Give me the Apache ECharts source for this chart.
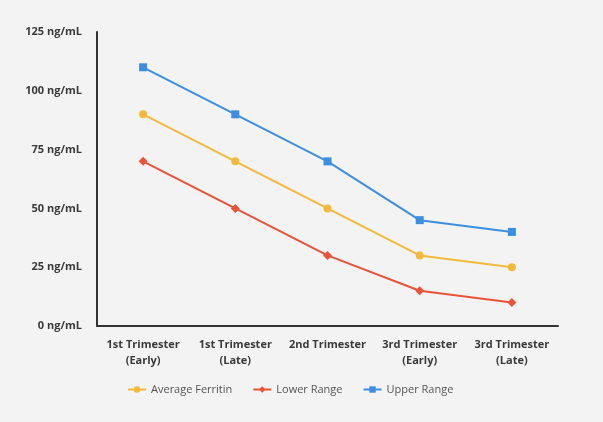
<!DOCTYPE html>
<html>
<head>
<meta charset="utf-8">
<script src="https://cdn.jsdelivr.net/npm/echarts@6/dist/echarts.min.js"></script>
<style>
  html, body { margin: 0; padding: 0; background: #f3f3f3; }
  #chart { width: 603px; height: 422px; }
</style>
</head>
<body>
<div id="chart"></div>
<script>
// trimester stages
var stages = ['1st Trimester\n(Early)', '1st Trimester\n(Late)', '2nd Trimester', '3rd Trimester\n(Early)', '3rd Trimester\n(Late)'];
// ferritin values, ng/mL
var averageFerritin = [90, 70, 50, 30, 25];
var lowerRange = [70, 50, 30, 15, 10];
var upperRange = [110, 90, 70, 45, 40];

var chart = echarts.init(document.getElementById('chart'));

function lineSeries(name, data, symbol, color) {
  return {
    name: name,
    type: 'line',
    data: data,
    symbol: symbol,
    symbolSize: symbol === 'diamond' ? 9 : 8,
    lineStyle: { width: 2, color: color },
    itemStyle: { color: color }
  };
}

var option = {
  backgroundColor: '#f3f3f3',
  animation: false,
  textStyle: { fontFamily: 'Open Sans' },
  grid: { left: 97, right: 45, top: 32, bottom: 96 },
  legend: {
    left: 122,
    bottom: 22,
    itemWidth: 18,
    itemHeight: 8,
    itemGap: 20,
    textStyle: { fontSize: 11, color: '#555' },
    data: ['Average Ferritin', 'Lower Range', 'Upper Range']
  },
  xAxis: {
    type: 'category',
    data: stages,
    axisLine: { lineStyle: { color: '#333', width: 2 } },
    axisTick: { show: false },
    axisLabel: { color: '#3a3a3a', fontSize: 11, fontWeight: 'bold', margin: 11, lineHeight: 16, interval: 0 }
  },
  yAxis: {
    type: 'value',
    min: 0,
    max: 125,
    interval: 25,
    axisLine: { show: true, lineStyle: { color: '#333', width: 2 } },
    axisTick: { show: false },
    splitLine: { show: false },
    axisLabel: { color: '#3a3a3a', fontSize: 11, fontWeight: 'bold', margin: 15, formatter: '{value} ng/mL' }
  },
  series: [
    lineSeries('Average Ferritin', averageFerritin, 'circle', '#f2b93b'),
    lineSeries('Lower Range', lowerRange, 'diamond', '#e8533a'),
    lineSeries('Upper Range', upperRange, 'rect', '#3c8ee0')
  ]
};

chart.setOption(option);
</script>
</body>
</html>
